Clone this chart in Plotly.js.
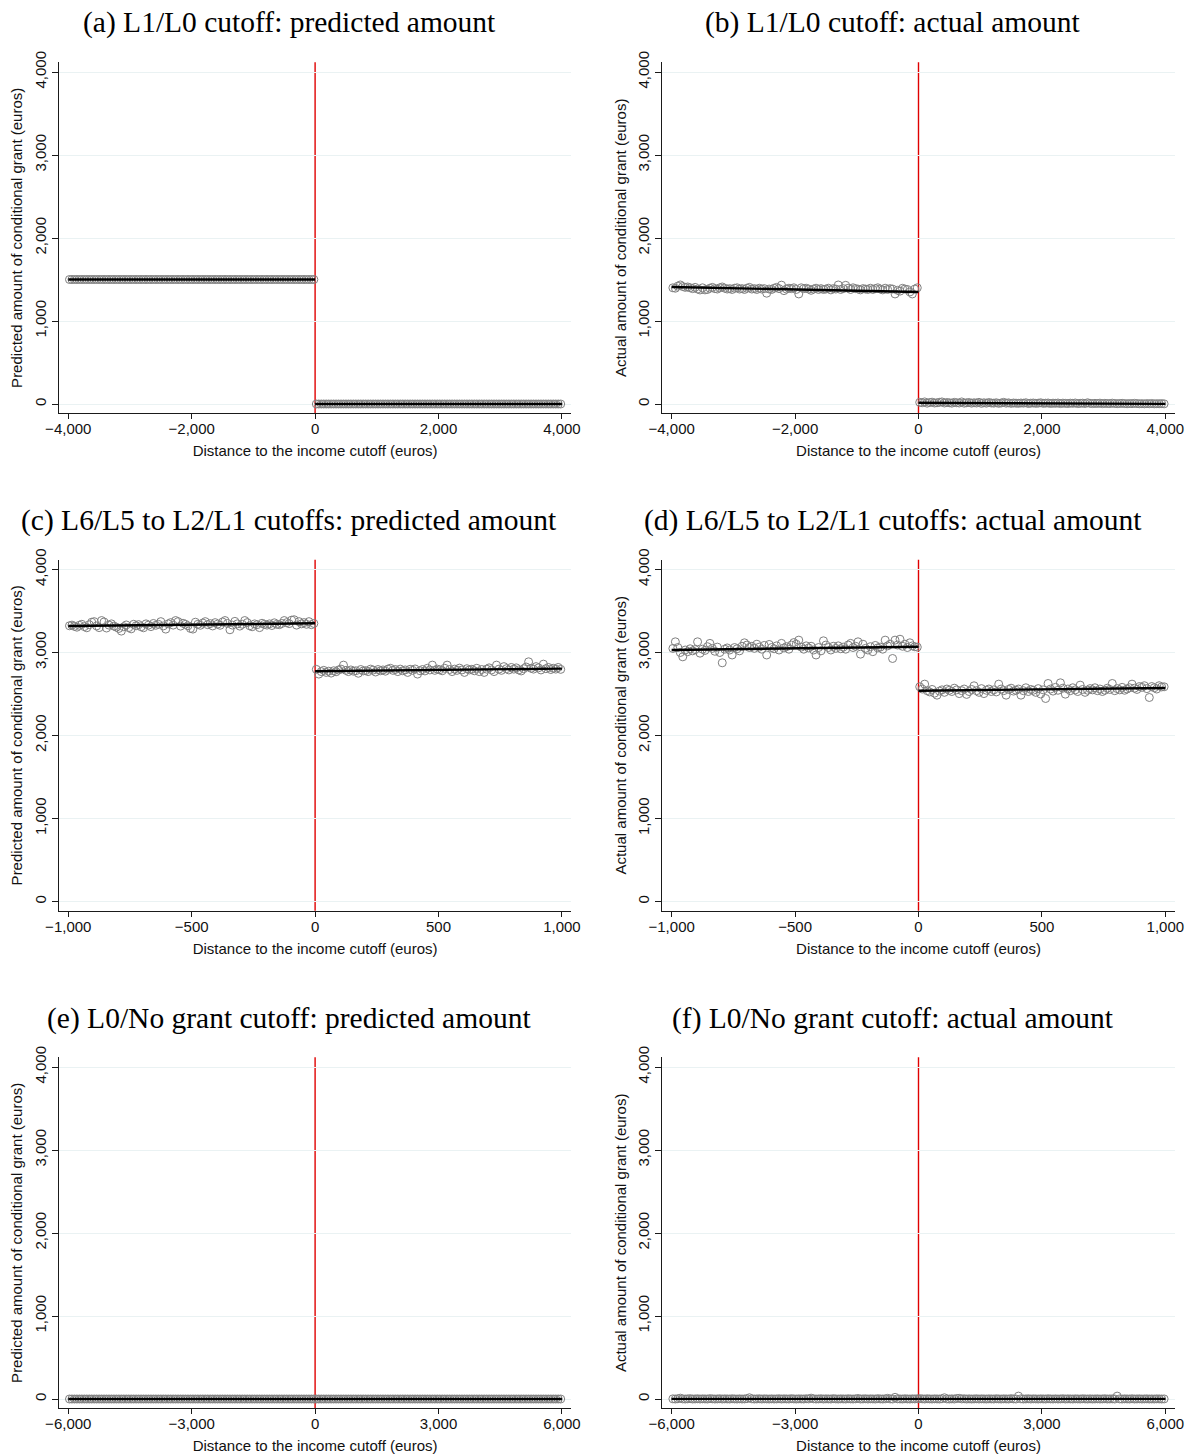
<!DOCTYPE html>
<html><head><meta charset="utf-8">
<script src="https://cdn.plot.ly/plotly-3.0.1.min.js"></script>
<style>html,body{margin:0;padding:0;background:#fff}#chart{width:1193px;height:1454px}</style>
</head><body><div id="chart"></div>
<script>
// ---------------- DATA ----------------
const panelTitles = [
  "(a) L1/L0 cutoff: predicted amount",
  "(b) L1/L0 cutoff: actual amount",
  "(c) L6/L5 to L2/L1 cutoffs: predicted amount",
  "(d) L6/L5 to L2/L1 cutoffs: actual amount",
  "(e) L0/No grant cutoff: predicted amount",
  "(f) L0/No grant cutoff: actual amount"
];
const yTitlePredicted = "Predicted amount of conditional grant (euros)";
const yTitleActual = "Actual amount of conditional grant (euros)";
const xTitle = "Distance to the income cutoff (euros)";
const yTicks = [0, 1000, 2000, 3000, 4000];
const xTicks4000 = [-4000, -2000, 0, 2000, 4000];
const xTicks1000 = [-1000, -500, 0, 500, 1000];
const xTicks6000 = [-6000, -3000, 0, 3000, 6000];

// bin centers (euros)
const bins4000Left = [-3980,-3940,-3900,-3860,-3820,-3780,-3740,-3700,-3660,-3620,
-3580,-3540,-3500,-3460,-3420,-3380,-3340,-3300,-3260,-3220,
-3180,-3140,-3100,-3060,-3020,-2980,-2940,-2900,-2860,-2820,
-2780,-2740,-2700,-2660,-2620,-2580,-2540,-2500,-2460,-2420,
-2380,-2340,-2300,-2260,-2220,-2180,-2140,-2100,-2060,-2020,
-1980,-1940,-1900,-1860,-1820,-1780,-1740,-1700,-1660,-1620,
-1580,-1540,-1500,-1460,-1420,-1380,-1340,-1300,-1260,-1220,
-1180,-1140,-1100,-1060,-1020,-980,-940,-900,-860,-820,
-780,-740,-700,-660,-620,-580,-540,-500,-460,-420,
-380,-340,-300,-260,-220,-180,-140,-100,-60,-20];
const bins4000Right = [20,60,100,140,180,220,260,300,340,380,
420,460,500,540,580,620,660,700,740,780,
820,860,900,940,980,1020,1060,1100,1140,1180,
1220,1260,1300,1340,1380,1420,1460,1500,1540,1580,
1620,1660,1700,1740,1780,1820,1860,1900,1940,1980,
2020,2060,2100,2140,2180,2220,2260,2300,2340,2380,
2420,2460,2500,2540,2580,2620,2660,2700,2740,2780,
2820,2860,2900,2940,2980,3020,3060,3100,3140,3180,
3220,3260,3300,3340,3380,3420,3460,3500,3540,3580,
3620,3660,3700,3740,3780,3820,3860,3900,3940,3980];
const bins1000Left = [-995,-985,-975,-965,-955,-945,-935,-925,-915,-905,
-895,-885,-875,-865,-855,-845,-835,-825,-815,-805,
-795,-785,-775,-765,-755,-745,-735,-725,-715,-705,
-695,-685,-675,-665,-655,-645,-635,-625,-615,-605,
-595,-585,-575,-565,-555,-545,-535,-525,-515,-505,
-495,-485,-475,-465,-455,-445,-435,-425,-415,-405,
-395,-385,-375,-365,-355,-345,-335,-325,-315,-305,
-295,-285,-275,-265,-255,-245,-235,-225,-215,-205,
-195,-185,-175,-165,-155,-145,-135,-125,-115,-105,
-95,-85,-75,-65,-55,-45,-35,-25,-15,-5];
const bins1000Right = [5,15,25,35,45,55,65,75,85,95,
105,115,125,135,145,155,165,175,185,195,
205,215,225,235,245,255,265,275,285,295,
305,315,325,335,345,355,365,375,385,395,
405,415,425,435,445,455,465,475,485,495,
505,515,525,535,545,555,565,575,585,595,
605,615,625,635,645,655,665,675,685,695,
705,715,725,735,745,755,765,775,785,795,
805,815,825,835,845,855,865,875,885,895,
905,915,925,935,945,955,965,975,985,995];
const bins6000Left = [-5970,-5910,-5850,-5790,-5730,-5670,-5610,-5550,-5490,-5430,
-5370,-5310,-5250,-5190,-5130,-5070,-5010,-4950,-4890,-4830,
-4770,-4710,-4650,-4590,-4530,-4470,-4410,-4350,-4290,-4230,
-4170,-4110,-4050,-3990,-3930,-3870,-3810,-3750,-3690,-3630,
-3570,-3510,-3450,-3390,-3330,-3270,-3210,-3150,-3090,-3030,
-2970,-2910,-2850,-2790,-2730,-2670,-2610,-2550,-2490,-2430,
-2370,-2310,-2250,-2190,-2130,-2070,-2010,-1950,-1890,-1830,
-1770,-1710,-1650,-1590,-1530,-1470,-1410,-1350,-1290,-1230,
-1170,-1110,-1050,-990,-930,-870,-810,-750,-690,-630,
-570,-510,-450,-390,-330,-270,-210,-150,-90,-30];
const bins6000Right = [30,90,150,210,270,330,390,450,510,570,
630,690,750,810,870,930,990,1050,1110,1170,
1230,1290,1350,1410,1470,1530,1590,1650,1710,1770,
1830,1890,1950,2010,2070,2130,2190,2250,2310,2370,
2430,2490,2550,2610,2670,2730,2790,2850,2910,2970,
3030,3090,3150,3210,3270,3330,3390,3450,3510,3570,
3630,3690,3750,3810,3870,3930,3990,4050,4110,4170,
4230,4290,4350,4410,4470,4530,4590,4650,4710,4770,
4830,4890,4950,5010,5070,5130,5190,5250,5310,5370,
5430,5490,5550,5610,5670,5730,5790,5850,5910,5970];

// (a) predicted, L1/L0
const aPredLeft = [1500,1500,1500,1500,1500,1500,1500,1500,1500,1500,
1500,1500,1500,1500,1500,1500,1500,1500,1500,1500,
1500,1500,1500,1500,1500,1500,1500,1500,1500,1500,
1500,1500,1500,1500,1500,1500,1500,1500,1500,1500,
1500,1500,1500,1500,1500,1500,1500,1500,1500,1500,
1500,1500,1500,1500,1500,1500,1500,1500,1500,1500,
1500,1500,1500,1500,1500,1500,1500,1500,1500,1500,
1500,1500,1500,1500,1500,1500,1500,1500,1500,1500,
1500,1500,1500,1500,1500,1500,1500,1500,1500,1500,
1500,1500,1500,1500,1500,1500,1500,1500,1500,1500];
const aPredRight = [0,0,0,0,0,0,0,0,0,0, 0,0,0,0,0,0,0,0,0,0, 0,0,0,0,0,0,0,0,0,0,
0,0,0,0,0,0,0,0,0,0, 0,0,0,0,0,0,0,0,0,0, 0,0,0,0,0,0,0,0,0,0, 0,0,0,0,0,0,0,0,0,0,
0,0,0,0,0,0,0,0,0,0, 0,0,0,0,0,0,0,0,0,0, 0,0,0,0,0,0,0,0,0,0];
const aFitLeft = [1500, 1500];
const aFitRight = [0, 0];

// (b) actual, L1/L0
const bActLeft = [1400,1395,1420,1434,1415,1405,1410,1400,1390,1405,
1385,1374,1400,1375,1380,1395,1405,1390,1385,1400,
1410,1395,1385,1390,1380,1395,1400,1385,1390,1380,
1395,1405,1385,1390,1380,1395,1385,1390,1335,1385,
1380,1395,1405,1390,1432,1366,1385,1395,1390,1400,
1380,1326,1400,1390,1395,1385,1370,1385,1395,1380,
1390,1380,1385,1395,1375,1390,1385,1434,1380,1390,
1430,1395,1380,1400,1390,1385,1375,1390,1385,1380,
1395,1380,1390,1400,1385,1375,1395,1380,1390,1385,
1326,1370,1360,1394,1385,1380,1350,1326,1385,1400];
const bActRight = [20,15,25,10,18,22,12,15,20,25,
12,18,15,10,20,15,12,25,10,15,
18,10,15,12,20,8,15,10,18,12,
10,15,8,12,20,10,14,8,12,10,
8,12,10,15,6,10,12,8,10,15,
8,10,12,6,10,8,12,5,10,8,
6,10,8,12,5,8,10,6,15,8,
5,8,6,10,4,8,6,5,10,6,
4,6,8,5,3,6,4,8,5,3,
4,2,5,3,6,2,4,3,5,2];
const bFitLeft = [1410, 1350];
const bFitRight = [15, 2];

// (c) predicted, L6/L5 to L2/L1
const cPredLeft = [3322,3330,3315,3305,3328,3340,3312,3298,3335,3365,
3372,3320,3300,3385,3368,3295,3330,3345,3318,3305,
3290,3258,3310,3332,3300,3285,3340,3322,3336,3310,
3298,3345,3330,3312,3350,3328,3340,3372,3320,3282,
3345,3360,3330,3385,3372,3318,3352,3340,3322,3290,
3282,3365,3340,3328,3355,3372,3335,3348,3320,3360,
3342,3328,3368,3385,3350,3274,3330,3375,3345,3318,
3340,3385,3360,3322,3310,3345,3335,3300,3352,3340,
3330,3345,3325,3358,3340,3335,3350,3385,3360,3348,
3390,3395,3330,3372,3345,3360,3340,3372,3335,3350];
const cPredRight = [2797,2740,2770,2785,2760,2775,2752,2780,2768,2790,
2800,2848,2785,2770,2790,2775,2780,2750,2795,2778,
2782,2770,2800,2788,2765,2795,2780,2790,2775,2800,
2810,2785,2795,2770,2800,2780,2790,2760,2798,2785,
2802,2740,2780,2795,2778,2810,2790,2848,2785,2800,
2792,2780,2810,2848,2795,2770,2800,2785,2812,2790,
2760,2805,2790,2798,2780,2810,2770,2795,2760,2800,
2815,2790,2770,2848,2800,2785,2830,2805,2790,2820,
2800,2815,2790,2778,2805,2825,2888,2810,2800,2830,
2815,2790,2860,2805,2820,2795,2810,2800,2820,2797];
const cFitLeft = [3320, 3352];
const cFitRight = [2774, 2806];

// (d) actual, L6/L5 to L2/L1
const dActLeft = [3049,3129,3060,3000,2948,3030,3010,3045,3020,3035,
3129,2992,3040,3025,3070,3110,3050,3015,3065,3000,
2876,3040,3055,3030,2970,3060,3045,3020,3075,3117,
3090,3060,3075,3050,3100,3065,3040,3085,2970,3097,
3060,3045,3080,3030,3110,3055,3070,3040,3090,3120,
3100,3149,3065,3040,3080,3055,3075,3030,2970,3060,
3020,3141,3090,3060,3030,3075,3050,3080,3045,3065,
3040,3090,3110,3060,3075,3129,2980,3100,3050,3030,
3070,3010,3085,3055,3065,3040,3149,3080,3100,2928,
3149,3090,3160,3075,3100,3060,3117,3080,3069,3065];
const dActRight = [2587,2560,2619,2540,2525,2555,2510,2486,2535,2550,
2520,2560,2545,2530,2570,2550,2505,2540,2560,2495,
2530,2555,2599,2540,2520,2565,2505,2545,2560,2530,
2550,2525,2619,2560,2540,2486,2555,2570,2535,2545,
2560,2486,2540,2575,2530,2555,2545,2520,2565,2500,
2550,2446,2627,2560,2535,2580,2545,2635,2570,2498,
2560,2540,2575,2550,2530,2607,2555,2520,2545,2565,
2550,2575,2540,2560,2530,2545,2570,2555,2627,2540,
2565,2550,2580,2545,2560,2575,2619,2570,2555,2590,
2580,2600,2565,2458,2590,2575,2560,2600,2585,2587];
const dFitLeft = [3030, 3070];
const dFitRight = [2540, 2572];

// (e) predicted, L0/No grant
const ePredLeft = [0,0,0,0,0,0,0,0,0,0, 0,0,0,0,0,0,0,0,0,0, 0,0,0,0,0,0,0,0,0,0,
0,0,0,0,0,0,0,0,0,0, 0,0,0,0,0,0,0,0,0,0, 0,0,0,0,0,0,0,0,0,0, 0,0,0,0,0,0,0,0,0,0,
0,0,0,0,0,0,0,0,0,0, 0,0,0,0,0,0,0,0,0,0, 0,0,0,0,0,0,0,0,0,0];
const ePredRight = [0,0,0,0,0,0,0,0,0,0, 0,0,0,0,0,0,0,0,0,0, 0,0,0,0,0,0,0,0,0,0,
0,0,0,0,0,0,0,0,0,0, 0,0,0,0,0,0,0,0,0,0, 0,0,0,0,0,0,0,0,0,0, 0,0,0,0,0,0,0,0,0,0,
0,0,0,0,0,0,0,0,0,0, 0,0,0,0,0,0,0,0,0,0, 0,0,0,0,0,0,0,0,0,0];
const eFitLeft = [0, 0];
const eFitRight = [0, 0];

// (f) actual, L0/No grant
const fActLeft = [2,0,3,10,1,0,2,4,0,1,
3,0,2,1,0,4,2,0,1,3,
0,2,1,0,3,1,0,2,0,1,
4,15,2,0,1,3,0,2,1,0,
2,0,1,3,0,2,1,0,4,1,
0,2,1,0,3,1,10,2,0,1,
3,0,2,1,0,4,1,0,2,1,
0,3,1,0,2,6,0,1,3,0,
2,1,0,4,1,0,2,8,1,0,
20,2,1,0,3,1,0,2,1,3];
const fActRight = [4,2,0,3,1,0,2,1,0,3,
15,1,0,2,0,6,8,1,3,0,
2,0,1,3,0,2,1,0,2,1,
0,3,1,0,2,1,0,4,1,0,
35,2,0,1,3,0,2,1,0,2,
1,0,3,1,0,2,0,1,3,0,
2,1,0,2,1,0,3,1,0,2,
0,1,2,0,1,3,0,1,2,0,
35,1,0,2,1,0,3,0,1,2,
0,1,2,0,1,0,2,1,0,1];
const fFitLeft = [2, 2];
const fFitRight = [2, 2];

// ---------------- LAYOUT / DRAWING ----------------
const W = 1193, H = 1454;
const colPx = [[59.0, 571.2], [662.4, 1174.6]];
const rowPx = [[62.3, 413.3], [559.8, 910.8], [1057.3, 1408.3]];
const titleCenterPx = [289, 893];
const titleRowPx = [23, 520.5, 1018];
const yRange = [-112, 4117];

const panels = [
  {xl: bins4000Left, yl: aPredLeft, xr: bins4000Right, yr: aPredRight, fl: aFitLeft, fr: aFitRight, half: 4000, ticks: xTicks4000, ytitle: yTitlePredicted},
  {xl: bins4000Left, yl: bActLeft, xr: bins4000Right, yr: bActRight, fl: bFitLeft, fr: bFitRight, half: 4000, ticks: xTicks4000, ytitle: yTitleActual},
  {xl: bins1000Left, yl: cPredLeft, xr: bins1000Right, yr: cPredRight, fl: cFitLeft, fr: cFitRight, half: 1000, ticks: xTicks1000, ytitle: yTitlePredicted},
  {xl: bins1000Left, yl: dActLeft, xr: bins1000Right, yr: dActRight, fl: dFitLeft, fr: dFitRight, half: 1000, ticks: xTicks1000, ytitle: yTitleActual},
  {xl: bins6000Left, yl: ePredLeft, xr: bins6000Right, yr: ePredRight, fl: eFitLeft, fr: eFitRight, half: 6000, ticks: xTicks6000, ytitle: yTitlePredicted},
  {xl: bins6000Left, yl: fActLeft, xr: bins6000Right, yr: fActRight, fl: fFitLeft, fr: fFitRight, half: 6000, ticks: xTicks6000, ytitle: yTitleActual}
];

const sans = 'Liberation Sans, Arial, sans-serif';
const axisColor = '#1a1a1a';
const traces = [];
const layout = {
  width: W, height: H,
  margin: {l: 0, r: 0, t: 0, b: 0},
  paper_bgcolor: '#ffffff', plot_bgcolor: '#ffffff',
  showlegend: false,
  annotations: [], shapes: []
};

panels.forEach((p, i) => {
  const row = Math.floor(i / 2), col = i % 2;
  const n = i === 0 ? '' : String(i + 1);
  const xa = 'x' + n, ya = 'y' + n;
  const ext = p.half * 1.0375;
  layout['xaxis' + n] = {
    domain: [colPx[col][0] / W, colPx[col][1] / W],
    range: [-ext, ext], anchor: ya,
    tickmode: 'array', tickvals: p.ticks, tickformat: ',d',
    showgrid: false, zeroline: false,
    showline: true, linecolor: axisColor, linewidth: 1,
    ticks: 'outside', ticklen: 5, tickcolor: axisColor, tickwidth: 1,
    ticklabelstandoff: -3,
    tickfont: {family: sans, size: 15, color: '#111'},
    title: {text: xTitle, font: {family: sans, size: 15, color: '#111'}, standoff: 9},
    fixedrange: true
  };
  layout['yaxis' + n] = {
    domain: [1 - rowPx[row][1] / H, 1 - rowPx[row][0] / H],
    range: yRange, anchor: xa,
    tickmode: 'array', tickvals: yTicks, tickformat: ',d', tickangle: -90,
    showgrid: true, gridcolor: '#EAF2F3', gridwidth: 1, zeroline: false,
    showline: true, linecolor: axisColor, linewidth: 1,
    ticks: 'outside', ticklen: 6, tickcolor: axisColor, tickwidth: 1,
    tickfont: {family: sans, size: 15, color: '#111'},
    title: {text: p.ytitle, font: {family: sans, size: 15, color: '#111'}, standoff: 5},
    fixedrange: true
  };
  // cutoff line
  layout.shapes.push({type: 'line', xref: xa, yref: ya + ' domain', x0: 0, x1: 0, y0: 0, y1: 1,
    line: {color: '#e00000', width: 1.4}, layer: 'below'});
  // panel title
  layout.annotations.push({text: panelTitles[i], xref: 'paper', yref: 'paper',
    x: titleCenterPx[col] / W, y: 1 - titleRowPx[row] / H, xanchor: 'center', yanchor: 'middle',
    showarrow: false, font: {family: 'Liberation Serif, Times New Roman, serif', size: 29.5, color: '#000'}});
  // binned scatter
  traces.push({type: 'scatter', mode: 'markers', x: p.xl.concat(p.xr), y: p.yl.concat(p.yr),
    xaxis: xa, yaxis: ya, hoverinfo: 'skip',
    marker: {symbol: 'circle-open', size: 8, color: '#808080', line: {width: 1, color: '#808080'}}});
  // linear fits
  traces.push({type: 'scatter', mode: 'lines', x: [-p.half, 0], y: p.fl, xaxis: xa, yaxis: ya,
    hoverinfo: 'skip', line: {color: '#000', width: 2.4}});
  traces.push({type: 'scatter', mode: 'lines', x: [0, p.half], y: p.fr, xaxis: xa, yaxis: ya,
    hoverinfo: 'skip', line: {color: '#000', width: 2.4}});
});

Plotly.newPlot('chart', traces, layout, {displayModeBar: false, staticPlot: true});
</script>
</body></html>
